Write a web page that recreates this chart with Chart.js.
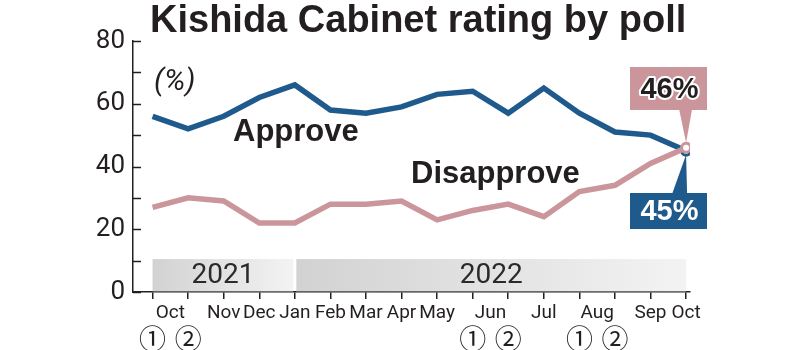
<!DOCTYPE html>
<html>
<head>
<meta charset="utf-8">
<script src="https://cdn.jsdelivr.net/npm/chart.js@4"></script>
<style>
html,body{margin:0;padding:0;background:#fff;}
canvas{display:block;}
</style>
</head>
<body>
<canvas id="c" width="800" height="350"></canvas>
<script>
// ---- data ----
const months = ['Oct','Oct','Nov','Dec','Jan','Feb','Mar','Apr','May','Jun','Jun','Jul','Aug','Aug','Sep','Oct'];
const rounds = ['①','②','','','','','','','','①','②','','①','②','',''];
const approve    = [56,52,56,62,66,58,57,59,63,64,57,65,57,51,50,45];
const disapprove = [27,30,29,22,22,28,28,29,23,26,28,24,32,34,41,46];
const years = ['2021','2022'];
const yearStart = [0, 4];   // index of first poll in each year
const yTicks = [0,10,20,30,40,50,60,70,80];
const yLabelled = [0,20,40,60,80];
const title = 'Kishida Cabinet rating by poll';
const unitText = '(%)';
const seriesNames = ['Approve','Disapprove'];

const BLUE = '#1f5a8c';
const PINK = '#cb969b';
const INK = '#231f20';
const NUM = "Roboto, 'Liberation Sans', sans-serif";
const BOLD = "'Liberation Sans', Arial, sans-serif";
const last = approve.length - 1;

const xTickValues = [];
for (let i = 0; i < months.length; i++) {
  xTickValues.push(i);
  if (rounds[i] === '①') xTickValues.push(i + 0.5);
}
xTickValues.sort((a,b)=>a-b);

const decor = {
  id: 'decor',
  beforeDatasetsDraw(chart) {
    const ctx = chart.ctx, xs = chart.scales.x, ys = chart.scales.y;
    const top = ys.getPixelForValue(10.5), bot = ys.getPixelForValue(0.2);
    const bands = [
      [xs.getPixelForValue(yearStart[0]), xs.getPixelForValue(yearStart[1]) - 1.5],
      [xs.getPixelForValue(yearStart[1]) + 1.5, xs.getPixelForValue(last)]
    ];
    ctx.save();
    bands.forEach((b, k) => {
      const g = ctx.createLinearGradient(b[0], 0, b[1], 0);
      g.addColorStop(0, '#d2d2d2');
      g.addColorStop(1, '#f3f3f3');
      ctx.fillStyle = g;
      ctx.fillRect(b[0], top, b[1] - b[0], bot - top);
      ctx.fillStyle = '#2a2a2a';
      ctx.font = "28px " + NUM;
      ctx.textAlign = 'center';
      ctx.textBaseline = 'middle';
      ctx.fillText(years[k], (b[0] + b[1]) / 2, (top + bot) / 2 + 1);
    });
    ctx.restore();
  },
  afterDraw(chart) {
    const ctx = chart.ctx, xs = chart.scales.x, ys = chart.scales.y;
    const ca = chart.chartArea;
    ctx.save();
    // inward y tick marks
    ctx.strokeStyle = INK; ctx.lineWidth = 1.5;
    yTicks.forEach(v => {
      const y = Math.round(ys.getPixelForValue(v)) + 0.5;
      ctx.beginPath(); ctx.moveTo(ca.left, y); ctx.lineTo(ca.left + 8, y); ctx.stroke();
    });
    // title
    ctx.fillStyle = INK;
    ctx.textAlign = 'left'; ctx.textBaseline = 'alphabetic';
    ctx.font = "bold 38px " + BOLD;
    ctx.fillText(title, 150, 32);
    // unit
    ctx.font = "italic 30px " + NUM;
    ctx.fillText(unitText, 154, 90);
    // series labels
    ctx.font = "bold 31px " + BOLD;
    ctx.fillText(seriesNames[0], 233, 141);
    ctx.fillText(seriesNames[1], 411, 183);

    // callouts
    const px = xs.getPixelForValue(last);
    const pyD = ys.getPixelForValue(disapprove[last]);
    const pyA = ys.getPixelForValue(approve[last]);
    const bx0 = 630, bx1 = 707;
    // disapprove box (above)
    ctx.fillStyle = PINK;
    ctx.fillRect(bx0, 67, bx1 - bx0, 43);
    ctx.beginPath(); ctx.moveTo(px - 7, 109); ctx.lineTo(px + 6, 109); ctx.lineTo(px, pyD - 5); ctx.closePath(); ctx.fill();
    ctx.font = "bold 29px " + BOLD;
    ctx.textAlign = 'center'; ctx.textBaseline = 'middle';
    ctx.lineJoin = 'round';
    ctx.strokeStyle = '#fff'; ctx.lineWidth = 4;
    const tD = disapprove[last] + '%';
    ctx.strokeText(tD, (bx0 + bx1) / 2 + 1, 90);
    ctx.fillStyle = INK; ctx.fillText(tD, (bx0 + bx1) / 2 + 1, 90);
    // approve box (below)
    ctx.fillStyle = BLUE;
    ctx.fillRect(bx0, 193, bx1 - bx0, 36);
    ctx.beginPath(); ctx.moveTo(px - 14, 194); ctx.lineTo(px + 1, 194); ctx.lineTo(px, pyA + 4); ctx.closePath(); ctx.fill();
    ctx.fillStyle = '#fff';
    ctx.fillText(approve[last] + '%', (bx0 + bx1) / 2 + 1, 212);
    ctx.restore();
  }
};

const endRadius = ctx => ctx.dataIndex === last ? 4.5 : 0;

new Chart(document.getElementById('c'), {
  type: 'line',
  data: {
    datasets: [
      {
        label: seriesNames[1],
        data: disapprove.map((v, i) => ({x: i, y: v})),
        borderColor: PINK, borderWidth: 5.5,
        pointRadius: endRadius, pointBackgroundColor: '#fff',
        pointBorderColor: PINK, pointBorderWidth: 3,
        tension: 0, order: 1
      },
      {
        label: seriesNames[0],
        data: approve.map((v, i) => ({x: i, y: v})),
        borderColor: BLUE, borderWidth: 5.5,
        pointRadius: endRadius, pointBackgroundColor: '#fff',
        pointBorderColor: BLUE, pointBorderWidth: 3,
        tension: 0, order: 2
      }
    ]
  },
  options: {
    responsive: false,
    animation: false,
    devicePixelRatio: 1,
    layout: { padding: { top: 41, right: 110, left: 0, bottom: 0 } },
    plugins: { legend: { display: false }, tooltip: { enabled: false } },
    scales: {
      y: {
        min: 0, max: 80,
        afterFit: s => { s.width = 133; },
        afterBuildTicks: s => { s.ticks = yTicks.map(v => ({value: v})); },
        grid: { display: false },
        border: { display: true, color: INK, width: 1.5 },
        ticks: {
          padding: 0, color: INK,
          font: { family: NUM, size: 26 },
          callback: v => yLabelled.includes(v) ? String(v) : ''
        }
      },
      x: {
        type: 'linear', position: 'bottom', weight: 0,
        min: -0.55, max: 15.11,
        afterFit: s => { s.height = 33; },
        afterBuildTicks: s => { s.ticks = xTickValues.map(v => ({value: v})); },
        grid: {
          display: true, drawOnChartArea: false, drawTicks: true, tickLength: 7, lineWidth: 1.5,
          tickColor: c => (c.tick && Number.isInteger(c.tick.value)) ? INK : 'rgba(0,0,0,0)'
        },
        border: { display: true, color: INK, width: 1.5 },
        ticks: {
          autoSkip: false, maxRotation: 0, padding: 3, color: INK,
          font: { family: NUM, size: 19 },
          callback: v => Number.isInteger(v) ? (rounds[v] ? '' : months[v]) : months[Math.floor(v)]
        }
      },
      x2: {
        type: 'linear', position: 'bottom', weight: 1,
        min: -0.55, max: 15.11,
        afterFit: s => { s.height = 25; },
        afterBuildTicks: s => { s.ticks = months.map((m, i) => ({value: i})); },
        grid: { display: false, drawTicks: false },
        border: { display: false },
        ticks: {
          autoSkip: false, maxRotation: 0, padding: 0, color: INK,
          font: { family: "'Noto Sans CJK JP', 'DejaVu Sans', sans-serif", size: 27, lineHeight: 1 },
          callback: v => rounds[v] || ''
        }
      }
    }
  },
  plugins: [decor]
});
</script>
</body>
</html>
